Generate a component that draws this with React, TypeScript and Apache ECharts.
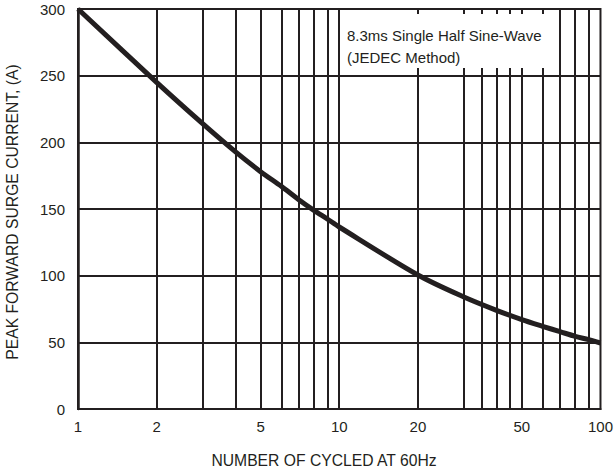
import React, { useEffect, useRef } from "react";
import * as echarts from "echarts";

const cycles = [1, 2, 3, 4, 5, 6, 7, 8, 9, 10, 20, 30, 40, 50, 60, 70, 80, 90, 100];
const surge = [300, 245, 214, 193, 178, 167, 157, 149, 142.5, 136.5, 100.5, 84, 74, 67, 62, 58, 54.5, 52, 49.5];
const xTickLabels = [1, 2, 5, 10, 20, 50, 100];
const xGridValues = [2, 3, 4, 5, 6, 7, 8, 9, 10, 20, 30, 35, 40, 45, 50, 60, 70, 80, 90];
const yMin = 0;
const yMax = 300;
const yInterval = 50;
const noteLines = ["8.3ms Single Half Sine-Wave", "(JEDEC Method)"];
const xTitle = "NUMBER OF CYCLED AT 60Hz";
const yTitle = "PEAK FORWARD SURGE CURRENT, (A)";

const INK = "#231f20";
const FONT = "'Liberation Sans', Arial, sans-serif";

export default function App() {
  const ref = useRef<HTMLDivElement>(null);

  useEffect(() => {
    if (!ref.current) return;
    const chart = echarts.init(ref.current, undefined, { renderer: "svg" });
    const points = cycles.map((c, i) => [c, surge[i]]);
    chart.setOption({
      animation: false,
      backgroundColor: "#ffffff",
      grid: {
        left: 78,
        right: 11,
        top: 9,
        bottom: 61,
        show: true,
        borderColor: INK,
        borderWidth: 2,
        backgroundColor: "transparent",
      },
      xAxis: {
        type: "log",
        logBase: 10,
        min: 1,
        max: 100,
        axisLine: { show: true, lineStyle: { color: INK, width: 2 } },
        axisTick: { show: false },
        splitLine: { show: false },
        minorSplitLine: { show: false },
        axisLabel: {
          customValues: xTickLabels,
          color: INK,
          fontSize: 15,
          fontFamily: FONT,
          margin: 10,
          formatter: (v: number) => String(Math.round(v)),
        },
      },
      yAxis: {
        type: "value",
        min: yMin,
        max: yMax,
        interval: yInterval,
        axisLine: { show: true, lineStyle: { color: INK, width: 2.5 } },
        axisTick: { show: false },
        splitLine: { show: true, lineStyle: { color: INK, width: 2 } },
        axisLabel: {
          color: INK,
          fontSize: 15,
          fontFamily: FONT,
          margin: 13,
        },
      },
      series: [
        {
          type: "line",
          data: points,
          z: 1,
          showSymbol: false,
          silent: true,
          lineStyle: { opacity: 0, width: 0 },
          markLine: {
            silent: true,
            symbol: ["none", "none"],
            label: { show: false },
            lineStyle: { color: INK, width: 2, type: "solid" },
            emphasis: { disabled: true },
            data: xGridValues.map((v) => ({ xAxis: v })),
          },
        },
        {
          type: "line",
          data: points,
          z: 5,
          smooth: 0.3,
          showSymbol: false,
          silent: true,
          lineStyle: { color: INK, width: 5 },
        },
      ],
      graphic: [
        {
          type: "rect",
          z: 100,
          shape: { x: 345, y: 14, width: 200, height: 54 },
          style: { fill: "#ffffff" },
        },
        {
          type: "text",
          z: 101,
          x: 347,
          y: 35,
          style: {
            text: noteLines[0],
            fill: INK,
            fontSize: 15,
            fontFamily: FONT,
            verticalAlign: "middle",
            align: "left",
          },
        },
        {
          type: "text",
          z: 101,
          x: 347,
          y: 57,
          style: {
            text: noteLines[1],
            fill: INK,
            fontSize: 15,
            fontFamily: FONT,
            verticalAlign: "middle",
            align: "left",
          },
        },
        {
          type: "text",
          z: 101,
          x: 324,
          y: 460,
          style: {
            text: xTitle,
            fill: INK,
            fontSize: 15.7,
            fontFamily: FONT,
            verticalAlign: "middle",
            align: "center",
          },
        },
        {
          type: "text",
          z: 101,
          x: 12,
          y: 212,
          rotation: Math.PI / 2,
          style: {
            text: yTitle,
            fill: INK,
            fontSize: 15.7,
            fontFamily: FONT,
            verticalAlign: "middle",
            align: "center",
          },
        },
      ],
    });
    return () => chart.dispose();
  }, []);

  return (
    <div
      ref={ref}
      style={{ position: "absolute", left: 0, top: 0, width: 616, height: 470 }}
    />
  );
}
